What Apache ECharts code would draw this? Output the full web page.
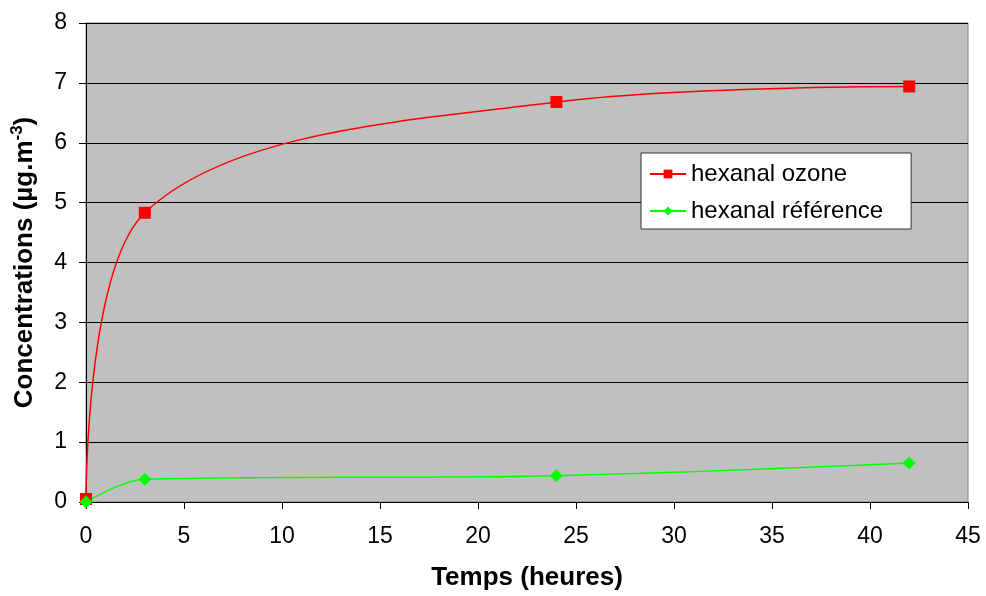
<!DOCTYPE html>
<html>
<head>
<meta charset="utf-8">
<script src="https://cdn.jsdelivr.net/npm/echarts@6/dist/echarts.min.js"></script>
<style>
  html, body { margin: 0; padding: 0; background: #fff; }
  #chart { width: 986px; height: 596px; }
</style>
</head>
<body>
<div id="chart"></div>
<script>
// temps (heures)
var heures = [0, 3, 24, 42];
// concentrations
var ozone = [0.05, 4.83, 6.68, 6.94];
var reference = [0, 0.38, 0.44, 0.65];
var xTicks = [0, 5, 10, 15, 20, 25, 30, 35, 40, 45];
var yTicks = [0, 1, 2, 3, 4, 5, 6, 7, 8];

function pairs(xs, ys) {
	var out = [];
	for (var i = 0; i < xs.length; i++) out.push([xs[i], ys[i]]);
	return out;
}

var myChart = echarts.init(document.getElementById('chart'));
var font = 'Liberation Sans, Arial, sans-serif';
var option = {
	animation: false,
	textStyle: { fontFamily: font },
	grid: {
		left: 86, top: 23, right: 18, bottom: 92,
		show: true,
		backgroundColor: '#C0C0C0',
		borderColor: '#808080',
		borderWidth: 1
	},
	legend: {
		orient: 'vertical',
		left: 641, top: 153,
		backgroundColor: '#fff',
		borderColor: '#333',
		borderWidth: 1,
		borderRadius: 0,
		padding: [9, 28, 6, 8],
		itemGap: 13,
		itemWidth: 36,
		itemHeight: 11,
		textStyle: { fontSize: 24, color: '#000', fontFamily: font },
		data: ['hexanal ozone', 'hexanal référence']
	},
	xAxis: {
		type: 'value',
		min: xTicks[0], max: xTicks[xTicks.length - 1], interval: 5,
		name: 'Temps (heures)',
		nameLocation: 'middle',
		nameGap: 63,
		nameTextStyle: { fontSize: 26, fontWeight: 'bold', color: '#000' },
		axisLine: { onZero: false, lineStyle: { color: '#000', width: 1 } },
		axisTick: { show: true, inside: false, length: 7, lineStyle: { color: '#000' } },
		axisLabel: { fontSize: 23, color: '#000', margin: 23 },
		splitLine: { show: false }
	},
	yAxis: {
		type: 'value',
		min: yTicks[0], max: yTicks[yTicks.length - 1], interval: 1,
		name: 'Concentrations (µg.m{sup|-3})',
		nameLocation: 'middle',
		nameRotate: 90,
		nameGap: 46,
		nameTextStyle: {
			fontSize: 26, fontWeight: 'bold', color: '#000',
			rich: {
				sup: { fontSize: 17, fontWeight: 'bold', color: '#000', verticalAlign: 'top', padding: [0, 0, 14, 0] }
			}
		},
		axisLine: { show: true, lineStyle: { color: '#000', width: 1 } },
		axisTick: { show: true, inside: false, length: 7, lineStyle: { color: '#000' } },
		axisLabel: { fontSize: 23, color: '#000', margin: 19 },
		splitLine: { show: true, lineStyle: { color: '#000', width: 1 } }
	},
	series: [{
		name: 'hexanal ozone',
		type: 'line',
		data: pairs(heures, ozone),
		smooth: 0.35,
		symbol: 'rect',
		symbolSize: 12,
		lineStyle: { color: '#FF0000', width: 1.5 },
		itemStyle: { color: '#FF0000' }
	}, {
		name: 'hexanal référence',
		type: 'line',
		data: pairs(heures, reference),
		smooth: 0.35,
		symbol: 'diamond',
		symbolSize: 13,
		lineStyle: { color: '#00FF00', width: 1.5 },
		itemStyle: { color: '#00FF00' }
	}]
};
myChart.setOption(option);
</script>
</body>
</html>
